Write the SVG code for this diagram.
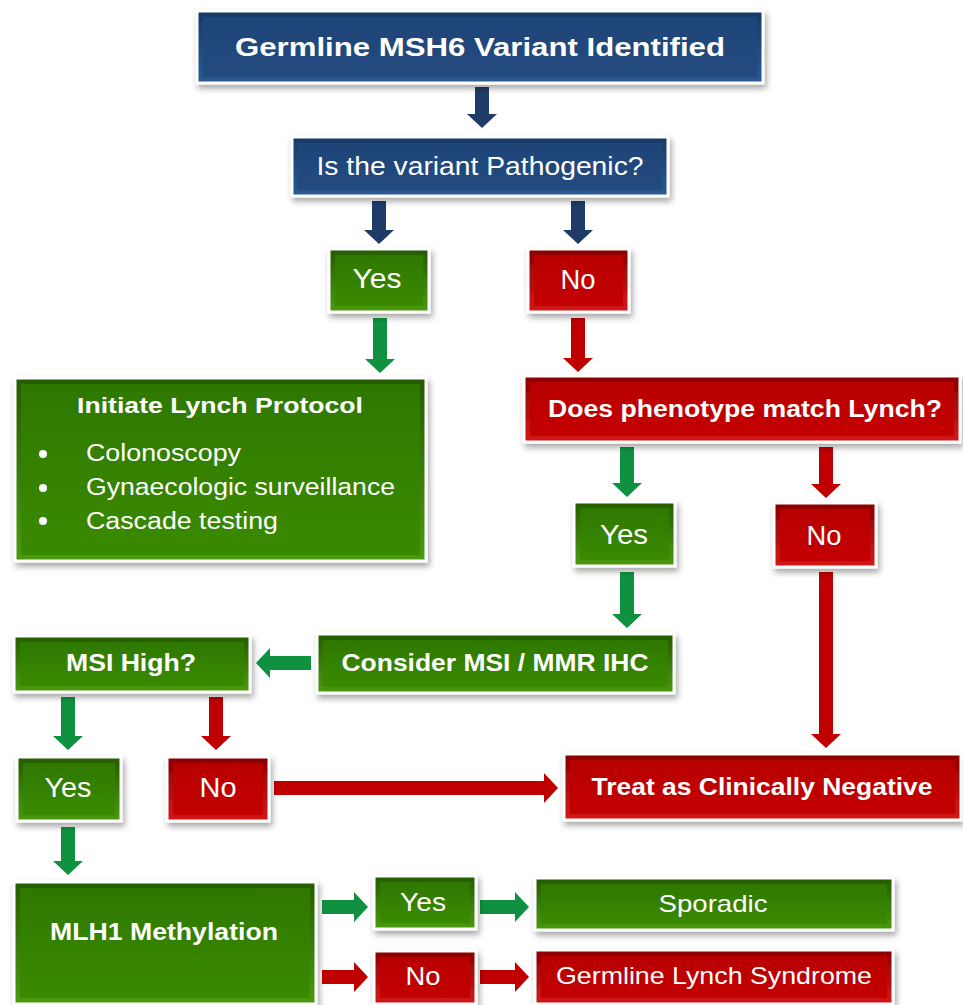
<svg xmlns="http://www.w3.org/2000/svg" width="963" height="1005" viewBox="0 0 963 1005">
<defs>
<filter id="sh" x="-10%" y="-20%" width="125%" height="150%"><feDropShadow dx="2" dy="4" stdDeviation="3" flood-color="#000" flood-opacity="0.35"/></filter>
<linearGradient id="bE" x1="0" y1="0" x2="0" y2="1"><stop offset="0" stop-color="#163a66"/><stop offset="1" stop-color="#2b5a95"/></linearGradient>
<linearGradient id="bF" x1="0" y1="0" x2="0" y2="1"><stop offset="0" stop-color="#1f4577"/><stop offset="1" stop-color="#234b80"/></linearGradient>
<linearGradient id="gE" x1="0" y1="0" x2="0" y2="1"><stop offset="0" stop-color="#245c00"/><stop offset="1" stop-color="#4a9a10"/></linearGradient>
<linearGradient id="gF" x1="0" y1="0" x2="0" y2="1"><stop offset="0" stop-color="#2f7800"/><stop offset="1" stop-color="#3a8a00"/></linearGradient>
<linearGradient id="rE" x1="0" y1="0" x2="0" y2="1"><stop offset="0" stop-color="#8a0000"/><stop offset="1" stop-color="#d41a1a"/></linearGradient>
<linearGradient id="rF" x1="0" y1="0" x2="0" y2="1"><stop offset="0" stop-color="#b80000"/><stop offset="1" stop-color="#c40000"/></linearGradient>
<style>
.fr{stroke:#fff;stroke-width:3;filter:url(#sh)}
.be{fill:url(#bE)}.bf{fill:url(#bF)}
.ge{fill:url(#gE)}.gf{fill:url(#gF)}
.re{fill:url(#rE)}.rf{fill:url(#rF)}
text{fill:#fff;font-family:"Liberation Sans",Arial,sans-serif;text-anchor:middle}
.b{font-weight:bold}
.l{text-anchor:start}
.ab{fill:#1f3c68}.ag{fill:#0f9140}.ar{fill:#c00000}
</style>
</defs>

<g id="connectors">
<path class="ab" d="M475,87 h14 V114 h8 L482,128 L467,114 h8 Z"/>
<path class="ab" d="M372,201 h14 V230 h8 L379,244 L364,230 h8 Z"/>
<path class="ab" d="M571,201 h14 V230 h8 L578,244 L563,230 h8 Z"/>
<path class="ag" d="M373,318 h14 V359 h8 L380,373 L365,359 h8 Z"/>
<path class="ar" d="M571,318 h14 V358 h8 L578,372 L563,358 h8 Z"/>
<path class="ag" d="M620,447 h14 V483 h8 L627,497 L612,483 h8 Z"/>
<path class="ar" d="M819,447 h14 V484 h8 L826,498 L811,484 h8 Z"/>
<path class="ag" d="M620,572 h14 V614 h8 L627,628 L612,614 h8 Z"/>
<path class="ar" d="M819,572 h14 V734 h8 L826,748 L811,734 h8 Z"/>
<path class="ag" d="M311,656 v14 H270 v8 L256,663 L270,648 v8 Z"/>
<path class="ag" d="M61,697 h14 V736 h8 L68,750 L53,736 h8 Z"/>
<path class="ar" d="M209,697 h14 V736 h8 L216,750 L201,736 h8 Z"/>
<path class="ar" d="M274,781 v14 H544 v8 L558,788 L544,773 v8 Z"/>
<path class="ag" d="M61,827 h14 V861 h8 L68,875 L53,861 h8 Z"/>
<path class="ag" d="M322,900 v14 H354 v8 L368,907 L354,892 v8 Z"/>
<path class="ag" d="M480,900 v14 H515 v8 L529,907 L515,892 v8 Z"/>
<path class="ar" d="M322,970 v14 H354 v8 L368,977 L354,962 v8 Z"/>
<path class="ar" d="M480,970 v14 H515 v8 L529,977 L515,962 v8 Z"/>
</g>

<g id="n-title">
<rect class="fr be" x="197" y="11" width="566" height="72"/>
<rect class="bf" x="203" y="17" width="554" height="60"/>
<text class="b" x="480" y="56" font-size="26" textLength="490" lengthAdjust="spacingAndGlyphs">Germline MSH6 Variant Identified</text>
</g>

<g id="n-pathogenic">
<rect class="fr be" x="292" y="137" width="376" height="59"/>
<rect class="bf" x="298" y="143" width="364" height="47"/>
<text x="480" y="175" font-size="26" textLength="327" lengthAdjust="spacingAndGlyphs">Is the variant Pathogenic?</text>
</g>

<g id="n-yes1">
<rect class="fr ge" x="329" y="249" width="100" height="63"/>
<rect class="gf" x="335" y="255" width="88" height="51"/>
<text x="377" y="288" font-size="27" textLength="49" lengthAdjust="spacingAndGlyphs">Yes</text>
</g>

<g id="n-no1">
<rect class="fr re" x="528" y="249" width="101" height="63"/>
<rect class="rf" x="534" y="255" width="89" height="51"/>
<text x="578" y="289" font-size="27" textLength="35" lengthAdjust="spacingAndGlyphs">No</text>
</g>

<g id="n-lynch">
<rect class="fr ge" x="15" y="378" width="411" height="183"/>
<rect class="gf" x="21" y="384" width="399" height="171"/>
<text class="b" x="220" y="413" font-size="22" textLength="286" lengthAdjust="spacingAndGlyphs">Initiate Lynch Protocol</text>
<circle cx="43" cy="454" r="4" fill="#fff"/>
<circle cx="43" cy="488" r="4" fill="#fff"/>
<circle cx="43" cy="521" r="4" fill="#fff"/>
<text class="l" x="86" y="461" font-size="23" textLength="155" lengthAdjust="spacingAndGlyphs">Colonoscopy</text>
<text class="l" x="86" y="495" font-size="23" textLength="309" lengthAdjust="spacingAndGlyphs">Gynaecologic surveillance</text>
<text class="l" x="86" y="529" font-size="23" textLength="192" lengthAdjust="spacingAndGlyphs">Cascade testing</text>
</g>

<g id="n-phenotype">
<rect class="fr re" x="524" y="376" width="436" height="66"/>
<rect class="rf" x="530" y="382" width="424" height="54"/>
<text class="b" x="745" y="417" font-size="23" textLength="394" lengthAdjust="spacingAndGlyphs">Does phenotype match Lynch?</text>
</g>

<g id="n-yes2">
<rect class="fr ge" x="574" y="502" width="101" height="64"/>
<rect class="gf" x="580" y="508" width="89" height="52"/>
<text x="624" y="544" font-size="27" textLength="48" lengthAdjust="spacingAndGlyphs">Yes</text>
</g>

<g id="n-no2">
<rect class="fr re" x="774" y="503" width="102" height="64"/>
<rect class="rf" x="780" y="509" width="90" height="52"/>
<text x="824" y="545" font-size="27" textLength="35" lengthAdjust="spacingAndGlyphs">No</text>
</g>

<g id="n-consider">
<rect class="fr ge" x="317" y="634" width="357" height="59"/>
<rect class="gf" x="323" y="640" width="345" height="47"/>
<text class="b" x="495" y="671" font-size="23" textLength="307" lengthAdjust="spacingAndGlyphs">Consider MSI / MMR IHC</text>
</g>

<g id="n-msi">
<rect class="fr ge" x="14" y="636" width="236" height="56"/>
<rect class="gf" x="20" y="642" width="224" height="44"/>
<text class="b" x="131" y="671" font-size="23" textLength="130" lengthAdjust="spacingAndGlyphs">MSI High?</text>
</g>

<g id="n-yes3">
<rect class="fr ge" x="17" y="757" width="104" height="64"/>
<rect class="gf" x="23" y="763" width="92" height="52"/>
<text x="68" y="797" font-size="27" textLength="47" lengthAdjust="spacingAndGlyphs">Yes</text>
</g>

<g id="n-no3">
<rect class="fr re" x="167" y="757" width="102" height="64"/>
<rect class="rf" x="173" y="763" width="90" height="52"/>
<text x="218" y="797" font-size="27" textLength="37" lengthAdjust="spacingAndGlyphs">No</text>
</g>

<g id="n-treat">
<rect class="fr re" x="564" y="754" width="397" height="66"/>
<rect class="rf" x="570" y="760" width="385" height="54"/>
<text class="b" x="762" y="795" font-size="23" textLength="341" lengthAdjust="spacingAndGlyphs">Treat as Clinically Negative</text>
</g>

<g id="n-mlh1">
<rect class="fr ge" x="14" y="882" width="302" height="122"/>
<rect class="gf" x="20" y="888" width="290" height="110"/>
<text class="b" x="164" y="940" font-size="24" textLength="228" lengthAdjust="spacingAndGlyphs">MLH1 Methylation</text>
</g>

<g id="n-yes4">
<rect class="fr ge" x="374" y="876" width="102" height="53"/>
<rect class="gf" x="380" y="882" width="90" height="41"/>
<text x="423" y="911" font-size="25" textLength="46" lengthAdjust="spacingAndGlyphs">Yes</text>
</g>

<g id="n-no4">
<rect class="fr re" x="374" y="951" width="102" height="53"/>
<rect class="rf" x="380" y="957" width="90" height="41"/>
<text x="423" y="985" font-size="25" textLength="35" lengthAdjust="spacingAndGlyphs">No</text>
</g>

<g id="n-sporadic">
<rect class="fr ge" x="535" y="878" width="358" height="52"/>
<rect class="gf" x="541" y="884" width="346" height="40"/>
<text x="713" y="912" font-size="24" textLength="109" lengthAdjust="spacingAndGlyphs">Sporadic</text>
</g>

<g id="n-germline">
<rect class="fr re" x="535" y="950" width="358" height="54"/>
<rect class="rf" x="541" y="956" width="346" height="42"/>
<text x="714" y="984" font-size="24" textLength="316" lengthAdjust="spacingAndGlyphs">Germline Lynch Syndrome</text>
</g>
</svg>
